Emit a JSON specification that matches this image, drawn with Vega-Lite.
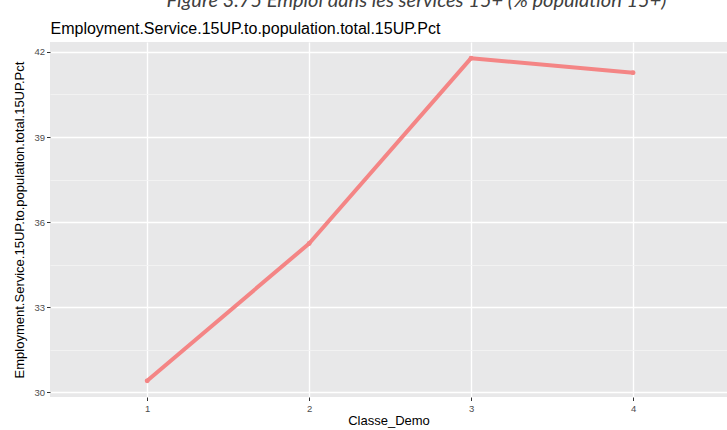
{
  "$schema": "https://vega.github.io/schema/vega-lite/v6.json",
  "autosize": "none",
  "padding": {"left": 50, "top": 42, "right": 0, "bottom": 33},
  "width": 677,
  "height": 355,
  "background": "white",
  "data": {
    "values": [
      {"Classe_Demo": 1, "value": 30.41},
      {"Classe_Demo": 2, "value": 35.25},
      {"Classe_Demo": 3, "value": 41.78},
      {"Classe_Demo": 4, "value": 41.27}
    ]
  },
  "title": {
    "text": "Figure 3.75 Emploi dans les services 15+ (% population 15+)",
    "anchor": "middle",
    "frame": "group",
    "dx": 28,
    "font": "Lato",
    "fontStyle": "italic",
    "fontWeight": "normal",
    "fontSize": 20,
    "color": "#404040",
    "baseline": "alphabetic",
    "offset": -7
  },
  "layer": [
    {
      "mark": {"type": "line", "color": "#F48585", "strokeWidth": 4, "strokeCap": "round", "strokeJoin": "round"},
      "encoding": {
        "x": {
          "field": "Classe_Demo",
          "type": "quantitative",
          "scale": {"domain": [0.4, 4.58], "nice": false, "zero": false},
          "axis": {
            "orient": "bottom",
            "values": [1, 2, 3, 4],
            "format": "d",
            "title": "Classe_Demo",
            "grid": true,
            "gridColor": "#ffffff",
            "gridWidth": 1.4,
            "domain": false,
            "ticks": true,
            "tickSize": 3.5,
            "tickColor": "#333333",
            "tickWidth": 1,
            "labelPadding": 3,
            "labelFontSize": 9.5,
            "labelColor": "#4d4d4d",
            "titlePadding": 1,
            "titleFontSize": 13,
            "titleFontWeight": "normal",
            "titleColor": "#000000"
          }
        },
        "y": {
          "field": "value",
          "type": "quantitative",
          "scale": {"domain": [29.84, 42.35], "nice": false, "zero": false},
          "axis": {
            "orient": "left",
            "values": [30, 33, 36, 39, 42],
            "format": "d",
            "title": "Employment.Service.15UP.to.population.total.15UP.Pct",
            "grid": true,
            "gridColor": "#ffffff",
            "gridWidth": 1.4,
            "domain": false,
            "ticks": true,
            "tickSize": 3.5,
            "tickColor": "#333333",
            "tickWidth": 1,
            "labelPadding": 2,
            "labelFontSize": 9.5,
            "labelColor": "#4d4d4d",
            "titlePadding": 7,
            "titleFontSize": 13,
            "titleFontWeight": "normal",
            "titleColor": "#000000"
          }
        }
      }
    },
    {
      "mark": {"type": "point", "filled": true, "color": "#F48585", "size": 24, "opacity": 1},
      "encoding": {
        "x": {
          "field": "Classe_Demo",
          "type": "quantitative",
          "axis": {
            "orient": "top",
            "title": "Employment.Service.15UP.to.population.total.15UP.Pct",
            "labels": false,
            "ticks": false,
            "tickSize": 0,
            "domain": false,
            "grid": false,
            "titleAnchor": "start",
            "titleFontSize": 16,
            "titleFontWeight": "normal",
            "titleColor": "#000000",
            "titlePadding": 6
          }
        },
        "y": {
          "field": "value",
          "type": "quantitative",
          "axis": {
            "orient": "left",
            "values": [31.5, 34.5, 37.5, 40.5],
            "labels": false,
            "ticks": false,
            "tickSize": 0,
            "domain": false,
            "title": null,
            "grid": true,
            "gridColor": "#f4f4f4",
            "gridWidth": 0.8
          }
        }
      }
    }
  ],
  "resolve": {"axis": {"x": "independent", "y": "independent"}},
  "config": {
    "font": "Liberation Sans",
    "view": {"fill": "#e8e8e9", "stroke": null},
    "axis": {"labelFont": "Liberation Sans", "titleFont": "Liberation Sans"}
  }
}
